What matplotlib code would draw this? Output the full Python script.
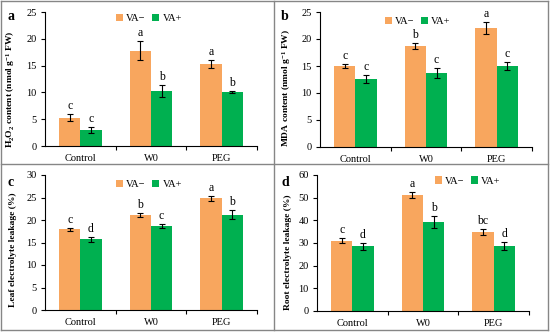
import matplotlib
matplotlib.use("Agg")
import matplotlib.pyplot as plt
from matplotlib.patches import Patch
from matplotlib.lines import Line2D
import numpy as np

plt.rcParams['font.family'] = ['Liberation Serif', 'DejaVu Serif']
plt.rcParams['mathtext.fontset'] = 'custom'
plt.rcParams['mathtext.rm'] = 'Liberation Serif:bold'
plt.rcParams['mathtext.it'] = 'Liberation Serif:bold'
plt.rcParams['mathtext.bf'] = 'Liberation Serif:bold'

categories = ["Control", "W0", "PEG"]
series_names = ["VA\u2212", "VA+"]

# panel a: H2O2
a_vam = [5.3, 17.8, 15.3]
a_vam_err = [0.7, 1.8, 0.8]
a_vap = [3.0, 10.2, 10.0]
a_vap_err = [0.5, 1.1, 0.2]
a_let_m = ["c", "a", "a"]
a_let_p = ["c", "b", "b"]

# panel b: MDA
b_vam = [15.0, 18.7, 22.1]
b_vam_err = [0.4, 0.6, 1.1]
b_vap = [12.6, 13.7, 15.0]
b_vap_err = [0.8, 1.0, 0.7]
b_let_m = ["c", "b", "a"]
b_let_p = ["c", "c", "c"]

# panel c: leaf electrolyte leakage
c_vam = [17.9, 21.1, 24.8]
c_vam_err = [0.3, 0.5, 0.5]
c_vap = [15.7, 18.7, 21.2]
c_vap_err = [0.5, 0.5, 1.0]
c_let_m = ["c", "b", "a"]
c_let_p = ["d", "c", "b"]

# panel d: root electrolyte leakage
d_vam = [31.0, 51.0, 34.8]
d_vam_err = [1.0, 1.3, 1.2]
d_vap = [28.6, 39.2, 28.6]
d_vap_err = [1.5, 2.5, 1.7]
d_let_m = ["c", "a", "bc"]
d_let_p = ["d", "b", "d"]

orange = "#F8A65E"
green = "#00B050"
gray = "#868686"

W, H = 550, 332
fig = plt.figure(figsize=(5.5, 3.32), dpi=100)

def px_axes(l, r, t, b):
    return fig.add_axes([l / W, (H - b) / H, (r - l) / W, (b - t) / H])

panels = [
    dict(box=(45, 257, 12, 146), vm=a_vam, vme=a_vam_err, vp=a_vap, vpe=a_vap_err,
         lm=a_let_m, lp=a_let_p, ymax=25, step=5,
         ylabel=r"H$_2$O$_2$ content (nmol g$^{-1}$ FW)", tag="a", tagpos=(11, 17),
         lab=(17, 89), leg=(0.49, 1.015)),
    dict(box=(320, 532, 12, 147), vm=b_vam, vme=b_vam_err, vp=b_vap, vpe=b_vap_err,
         lm=b_let_m, lp=b_let_p, ymax=25, step=5,
         ylabel=r"MDA content (nmol g$^{-1}$ FW)", tag="b", tagpos=(285, 17),
         lab=(293, 88), leg=(0.46, 0.995)),
    dict(box=(45, 257, 175, 310), vm=c_vam, vme=c_vam_err, vp=c_vap, vpe=c_vap_err,
         lm=c_let_m, lp=c_let_p, ymax=30, step=5,
         ylabel="Leaf electrolyte leakage (%)", tag="c", tagpos=(11, 182),
         lab=(17, 250), leg=(0.49, 0.995)),
    dict(box=(317, 529, 175, 311), vm=d_vam, vme=d_vam_err, vp=d_vap, vpe=d_vap_err,
         lm=d_let_m, lp=d_let_p, ymax=60, step=10,
         ylabel="Root electrolyte leakage (%)", tag="d", tagpos=(285, 182),
         lab=(292, 252), leg=(0.71, 1.02)),
]

x = np.arange(len(categories))
bw = 0.3
for p in panels:
    ax = px_axes(*p["box"])
    l, r, t, b = p["box"]
    ax.bar(x - bw / 2, p["vm"], bw, color=orange, yerr=p["vme"],
           error_kw=dict(ecolor="black", elinewidth=0.8, capsize=2, capthick=0.8))
    ax.bar(x + bw / 2, p["vp"], bw, color=green, yerr=p["vpe"],
           error_kw=dict(ecolor="black", elinewidth=0.8, capsize=2, capthick=0.8))
    for i in range(len(categories)):
        ax.annotate(p["lm"][i], (x[i] - bw / 2, p["vm"][i] + p["vme"][i]),
                    xytext=(0, 1.5), textcoords="offset points", ha="center",
                    va="bottom", fontsize=8.5)
        ax.annotate(p["lp"][i], (x[i] + bw / 2, p["vp"][i] + p["vpe"][i]),
                    xytext=(0, 1.5), textcoords="offset points", ha="center",
                    va="bottom", fontsize=8.5)
    ax.set_xlim(-0.5, 2.5)
    ax.set_ylim(0, p["ymax"])
    ax.set_yticks(np.arange(0, p["ymax"] + 0.1, p["step"]))
    ax.set_xticks(x)
    ax.set_xticklabels(categories)
    ax.set_xticks([0.5, 1.5, 2.5], minor=True)
    ax.tick_params(axis="x", which="major", length=0, labelsize=7.5, pad=6)
    ax.tick_params(axis="x", which="minor", length=3, color="black", width=0.8)
    ax.tick_params(axis="y", length=3, color="black", width=0.8, labelsize=7.5, pad=3)
    for s in ("top", "right"):
        ax.spines[s].set_visible(False)
    for s in ("left", "bottom"):
        ax.spines[s].set_color("black")
        ax.spines[s].set_linewidth(0.8)
    ax.set_ylabel(p["ylabel"], fontsize=6.8, fontweight="bold")
    lx, ly = p["lab"]
    ax.yaxis.set_label_coords((lx - l) / (r - l), (b - ly) / (b - t))
    fig.text(p["tagpos"][0] / W, (H - p["tagpos"][1]) / H, p["tag"], fontsize=10,
             fontweight="bold", ha="center", va="center")
    handles = [Patch(facecolor=orange, edgecolor="none"),
               Patch(facecolor=green, edgecolor="none")]
    ax.legend(handles, series_names, loc="upper center", bbox_to_anchor=p["leg"],
              ncol=2, frameon=False, fontsize=7.5, handlelength=0.7,
              handleheight=0.7, handletextpad=0.3, columnspacing=0.6,
              borderaxespad=0)

# panel boxes
def fline(x0, y0, x1, y1):
    fig.add_artist(Line2D([x0 / W, x1 / W], [(H - y0) / H, (H - y1) / H],
                          color=gray, lw=1, transform=fig.transFigure))

fline(1, 1, 548, 1)
fline(1, 330, 548, 330)
fline(1, 1, 1, 330)
fline(548, 1, 548, 330)
fline(274, 1, 274, 330)
fline(1, 164, 548, 164)

fig.savefig("out.png", dpi=100)
